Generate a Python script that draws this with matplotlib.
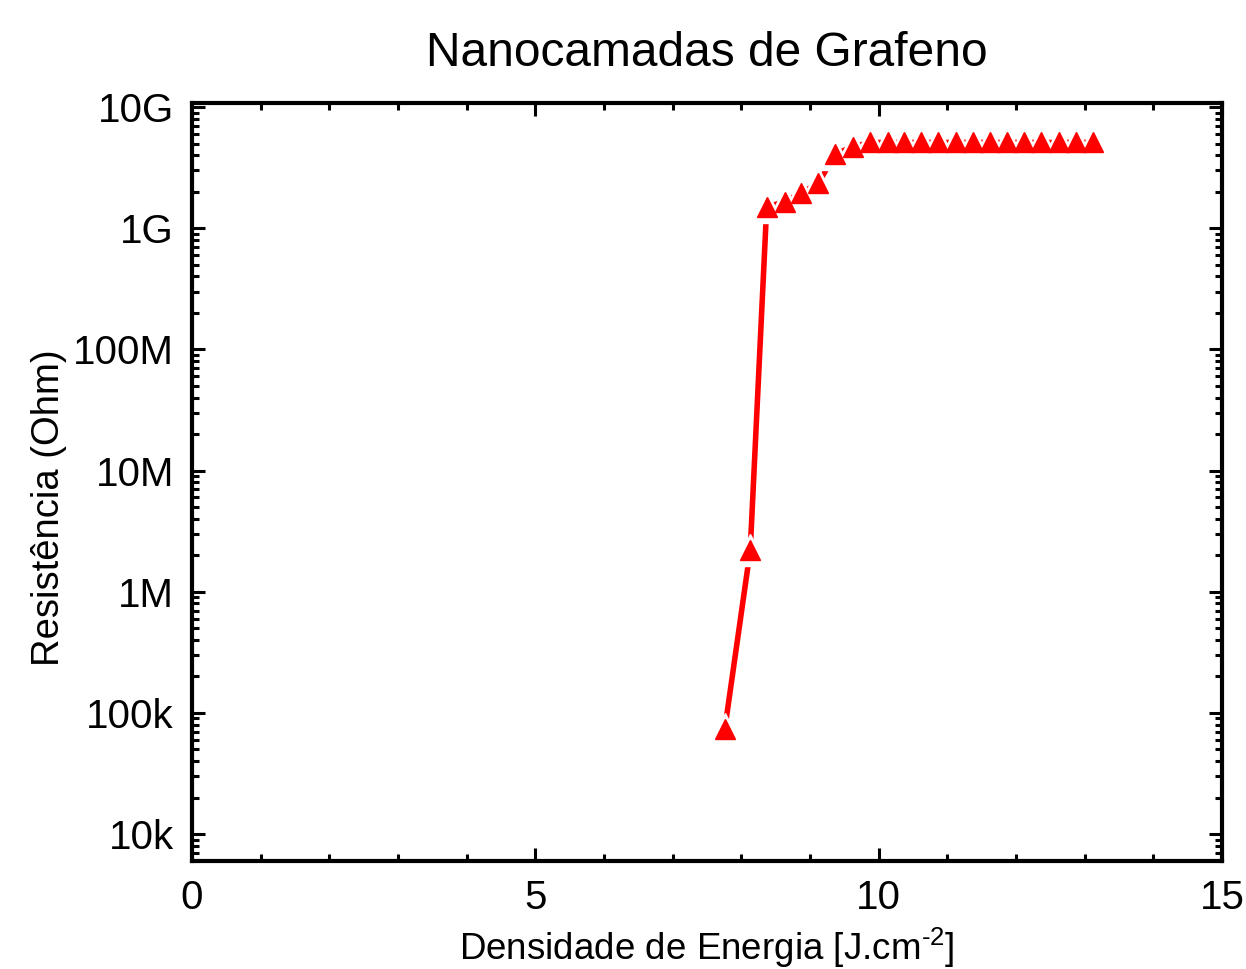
import matplotlib
matplotlib.use("Agg")
import matplotlib.pyplot as plt
from matplotlib.ticker import FixedLocator, MultipleLocator, LogLocator, NullFormatter

plt.rcParams["font.family"] = ["Liberation Sans", "DejaVu Sans"]
plt.rcParams["mathtext.fontset"] = "custom"
plt.rcParams["mathtext.rm"] = "Liberation Sans"
plt.rcParams["mathtext.it"] = "Liberation Sans"

# energia (J/cm2) e resistencia (Ohm)
energia = [7.76, 8.13, 8.37, 8.63, 8.87, 9.12, 9.37, 9.62, 9.88,
           10.13, 10.37, 10.62, 10.87, 11.12, 11.37, 11.62, 11.87,
           12.12, 12.37, 12.62, 12.87, 13.12]
resistencia = [7.4e4, 2.2e6, 1.5e9, 1.65e9, 1.95e9, 2.35e9, 4.1e9, 4.7e9, 5.1e9,
               5.1e9, 5.1e9, 5.1e9, 5.1e9, 5.1e9, 5.1e9, 5.1e9, 5.1e9,
               5.1e9, 5.1e9, 5.1e9, 5.1e9, 5.1e9]

y_ticks = [1e4, 1e5, 1e6, 1e7, 1e8, 1e9, 1e10]
y_labels = ["10k", "100k", "1M", "10M", "100M", "1G", "10G"]
x_ticks = [0, 5, 10, 15]

fig = plt.figure(figsize=(12.46, 9.69), dpi=100)
ax = fig.add_axes([0.1541, 0.1115, 0.8266, 0.7822])

ax.plot(energia, resistencia, color="red", lw=4, zorder=2)
# halo branco para os gaps entre linha e simbolos
ax.plot(energia, resistencia, ls="none", marker="^", ms=23, color="white", zorder=3)
ax.plot(energia, resistencia, ls="none", marker="^", ms=14, color="red", zorder=4)

ax.set_yscale("log")
ax.set_xlim(0, 15)
ax.set_ylim(6e3, 1.08e10)

ax.xaxis.set_major_locator(FixedLocator(x_ticks))
ax.xaxis.set_minor_locator(MultipleLocator(1))
ax.yaxis.set_major_locator(FixedLocator(y_ticks))
ax.set_yticklabels(y_labels)
ax.yaxis.set_minor_locator(LogLocator(base=10, subs=range(2, 10)))
ax.yaxis.set_minor_formatter(NullFormatter())

ax.tick_params(which="both", direction="in", top=True, right=True, width=2.2)
ax.tick_params(which="major", length=9.5, labelsize=29, pad=13)
ax.tick_params(which="minor", length=5)
for s in ax.spines.values():
    s.set_linewidth(3)

ax.set_title("Nanocamadas de Grafeno", fontsize=34.5, pad=27)
ax.set_xlabel("Densidade de Energia [J.cm$^{\\mathrm{\u20102}}$]", fontsize=26.5, labelpad=6)
ax.set_ylabel("Resistência (Ohm)", fontsize=27.5)
ax.yaxis.set_label_coords(-0.121, 0.466)

fig.savefig("out.png", dpi=100)
